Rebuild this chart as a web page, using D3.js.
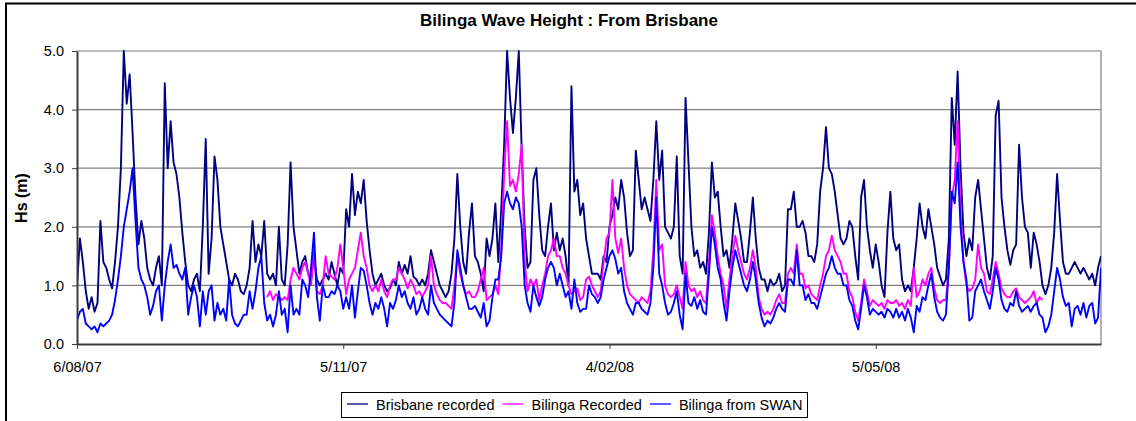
<!DOCTYPE html>
<html>
<head>
<meta charset="utf-8">
<script src="https://cdn.jsdelivr.net/npm/d3@7"></script>
<style>
  body { margin: 0; background: #fff; }
  svg { display: block; font-family: Arial, "Liberation Sans", sans-serif; }
</style>
</head>
<body>
<div id="chart"></div>
<script>
// daily samples, first one on 6/08/07
const startDate = new Date(2007, 7, 6);
const endDate = new Date(2008, 6, 21);
const tickDates = [new Date(2007, 7, 6), new Date(2007, 10, 5), new Date(2008, 1, 4), new Date(2008, 4, 5)];
const tickLabels = ["6/08/07", "5/11/07", "4/02/08", "5/05/08"];
const yTicks = [0, 1, 2, 3, 4, 5];
const seriesNames = ["Brisbane recorded", "Bilinga Recorded", "Bilinga from SWAN"];
const seriesColors = ["#000080", "#ff00ff", "#0000ff"];

const brisbaneRecorded = [
  1.0, 1.8, 1.4, 0.9, 0.6, 0.8, 0.55, 0.7, 2.1, 1.4,
  1.3, 1.1, 0.95, 1.4, 2.0, 3.0, 5.0, 4.1, 4.6, 3.6,
  2.5, 1.7, 2.1, 1.8, 1.3, 1.1, 1.0, 1.3, 1.5, 1.0,
  4.45, 3.0, 3.8, 3.1, 2.9, 2.5, 1.9, 1.4, 1.0, 0.9,
  1.1, 1.2, 0.9, 2.0, 3.5, 1.2, 1.8, 3.2, 2.8, 2.0,
  1.7, 1.4, 1.1, 1.0, 1.2, 1.1, 0.9, 0.85, 1.0, 1.3,
  2.1, 1.4, 1.7, 1.5, 2.1, 1.2, 1.1, 1.2, 1.0, 2.0,
  1.1, 1.0, 1.7, 3.1, 2.0, 1.6, 1.2, 1.4, 1.5, 1.2,
  1.1, 1.5, 1.1, 1.0, 1.1, 1.2, 1.1, 1.4, 1.2, 1.0,
  1.3, 1.2, 2.3, 2.0, 2.9, 2.2, 2.6, 2.4, 2.8, 2.1,
  1.6, 1.2, 1.0, 1.1, 1.2, 1.0, 0.9, 0.95, 1.1, 1.0,
  1.4, 1.2, 1.35, 1.2, 1.5, 1.15, 1.1, 1.0, 1.1, 1.0,
  1.2, 1.6, 1.4, 1.2, 1.0, 0.9, 0.8, 0.9, 1.2, 1.8,
  2.9, 2.0, 1.4, 1.2, 1.9, 2.4, 1.5, 1.4, 1.2, 0.9,
  1.8, 1.5, 1.8, 2.4, 1.4, 2.3, 3.4, 5.0, 4.2, 3.6,
  4.2, 5.0, 3.3, 2.0, 1.3, 1.4, 2.8, 3.0, 2.2, 1.6,
  1.5, 2.0, 2.4, 1.6, 1.9, 1.6, 1.8, 1.5, 1.0, 4.4,
  2.6, 2.8, 2.2, 2.4, 1.8, 1.5, 1.2, 1.2, 1.2, 1.1,
  1.5, 1.4, 2.0, 2.2, 2.5, 2.3, 2.8, 2.5, 1.9, 1.5,
  1.6, 3.3, 2.8, 2.3, 2.5, 2.3, 2.1, 2.8, 3.8, 2.8,
  3.3, 2.0, 1.9, 1.8, 2.0, 3.2, 1.5, 1.2, 4.2, 3.1,
  2.0, 1.5, 1.6, 1.3, 1.4, 1.2, 1.9, 3.1, 2.5, 2.6,
  2.0, 1.5, 1.6, 1.3, 1.8, 2.4, 2.1, 1.8, 1.4, 1.4,
  1.9, 2.5, 1.8, 1.3, 1.1, 1.1, 0.9, 1.1, 1.0, 1.05,
  1.2, 0.9, 1.0, 2.3, 2.3, 2.6, 2.0, 2.0, 2.1, 1.9,
  1.5, 1.5, 1.4, 1.7, 2.6, 3.0, 3.7, 3.0, 2.9, 2.6,
  2.2, 1.8, 1.7, 1.8, 2.1, 2.0, 1.5, 1.1, 2.5, 2.8,
  2.0, 1.6, 1.3, 1.7, 1.4, 1.0, 0.8, 1.9, 2.6, 1.8,
  1.6, 1.7, 1.1, 0.9, 1.0, 0.9, 1.3, 1.8, 2.4, 2.0,
  1.8, 2.3, 2.0, 1.7, 1.3, 1.15, 1.0, 1.1, 1.8, 4.2,
  3.4, 4.65, 3.0, 1.9, 1.5, 1.8, 1.6, 2.5, 2.8, 2.3,
  1.8, 1.3, 1.1, 1.5, 3.9, 4.15, 2.5, 2.0, 1.6, 1.35,
  1.6, 1.7, 3.4, 2.5, 2.0, 1.9, 1.3, 1.9, 1.7, 1.4,
  1.0, 0.85, 1.0, 1.3, 1.9, 2.9, 2.1, 1.4, 1.2, 1.2,
  1.3, 1.4, 1.3, 1.2, 1.3, 1.2, 1.1, 1.2, 1.0, 1.3, 1.5
];

// Bilinga buoy record begins 65 days into the period
const bilingaRecordedStart = 65;
const bilingaRecorded = [
  0.8, 0.9, 0.75, 0.85, 0.8,
  0.75, 0.8, 0.75, 1.1, 1.3, 1.2, 1.1, 1.3, 1.4, 1.2,
  1.0, 1.6, 0.9, 0.85, 1.0, 1.5, 1.2, 1.15, 1.1, 1.3,
  1.7, 1.3, 0.85, 1.1, 1.2, 1.3, 1.6, 1.9, 1.5, 1.3,
  1.0, 0.9, 1.0, 0.9, 1.1, 0.9, 0.8, 1.0, 1.1, 1.1,
  1.3, 1.2, 1.1, 0.95, 1.1, 1.0, 0.85, 0.9, 0.8, 0.9,
  1.0, 1.5, 1.0, 0.85, 0.75, 0.7, 0.7, 0.65, 0.6, 1.0,
  1.5, 1.2, 1.0, 0.85, 0.9, 0.8, 0.8, 0.9, 1.1, 1.3,
  0.75, 0.8, 0.85, 1.0, 0.85, 1.6, 2.9, 3.8, 2.7, 2.8,
  2.6, 2.9, 3.4, 1.4, 0.9, 1.1, 1.0, 1.1, 0.75, 1.0,
  1.2, 1.5, 1.6, 1.8, 1.5, 1.5, 1.3, 1.2, 1.0, 0.85,
  0.9, 0.95, 0.75, 0.8, 1.1, 1.15, 1.0, 0.9, 0.8, 0.9,
  1.4, 1.8, 1.9, 2.8, 1.8, 1.55, 1.8, 1.3, 1.0, 0.85,
  0.8, 0.75, 0.7, 0.8, 0.75, 0.7, 0.9, 1.6, 2.8, 1.6,
  1.7, 1.0, 0.85, 0.8, 0.85, 1.0, 0.8, 0.6, 1.4, 1.0,
  0.9, 0.95, 0.8, 0.9, 0.75, 0.7, 1.4, 2.2, 1.9, 1.5,
  1.2, 1.0, 0.6, 1.1, 1.5, 1.85, 1.6, 1.4, 1.2, 1.1,
  1.3, 1.6, 1.3, 0.8, 0.6, 0.5, 0.55, 0.5, 0.6, 0.75,
  0.85, 0.7, 0.7, 1.2, 1.3, 1.2, 1.7, 1.2, 1.2, 0.95,
  1.0, 0.85, 0.8, 0.75, 1.0, 1.2, 1.5, 1.6, 1.85, 1.6,
  1.5, 1.4, 1.2, 1.2, 0.9, 0.8, 0.55, 0.4, 0.7, 1.1,
  0.9, 0.65, 0.75, 0.7, 0.65, 0.7, 0.6, 0.75, 0.7, 0.7,
  0.75, 0.65, 0.7, 0.6, 0.75, 0.65, 1.3, 0.8, 0.9, 1.1,
  1.0, 1.2, 1.3, 0.95, 0.75, 0.7, 0.75, 0.75, 1.3, 2.5,
  2.8, 3.8, 2.2, 1.4, 1.0, 0.9, 0.95, 1.1, 1.7, 1.3,
  1.2, 0.9, 0.85, 1.1, 1.4, 1.2, 0.95, 0.85, 0.8, 0.8,
  0.9, 0.95, 0.8, 0.75, 0.7, 0.75, 0.8, 0.9, 0.7, 0.8, 0.75
];

const bilingaSwan = [
  0.4, 0.55, 0.6, 0.35, 0.3, 0.25, 0.3, 0.2, 0.35, 0.3,
  0.35, 0.4, 0.5, 0.75, 1.1, 1.5, 2.0, 2.3, 2.6, 3.0,
  2.1, 1.3, 1.1, 1.0, 0.8, 0.5, 0.65, 0.9, 1.0, 0.4,
  1.0, 1.4, 1.7, 1.3, 1.35, 1.2, 1.1, 1.3, 0.5, 0.8,
  1.0, 0.8, 0.3, 0.9, 0.5, 0.9, 1.0, 0.4, 0.7, 0.5,
  0.6, 0.4, 1.1, 0.5, 0.35, 0.3, 0.4, 0.5, 0.5, 0.9,
  0.6, 0.9, 1.3, 1.5, 0.7, 0.4, 0.5, 0.3, 0.5, 0.9,
  0.5, 0.6, 0.2, 1.0, 0.5, 0.6, 0.5, 1.1, 1.0, 0.8,
  1.3, 1.9, 0.8, 0.4, 1.0, 0.8, 0.8, 0.9, 0.85, 1.0,
  0.9, 0.6, 0.8, 0.6, 1.0, 0.45, 0.9, 1.3, 1.25, 1.0,
  0.7, 0.5, 0.7, 0.6, 0.8, 0.6, 0.3, 0.7, 0.6, 0.75,
  1.0, 0.8, 0.9, 0.7, 0.6, 0.8, 0.5, 0.6, 0.8, 0.6,
  0.5, 1.0, 0.7, 0.6, 0.5, 0.45, 0.4, 0.35, 0.3, 0.7,
  1.6, 1.3, 1.0, 0.8, 0.6, 0.6, 0.65, 0.55, 0.45, 0.7,
  0.3, 0.4, 0.8, 1.1, 1.1, 1.5, 2.4, 2.6, 2.4, 2.3,
  2.5, 2.4, 2.0, 1.0, 0.7, 0.55, 1.0, 0.8, 0.65, 0.8,
  1.1, 1.3, 1.4, 1.3, 1.0, 1.2, 1.0, 0.8, 0.9, 0.6,
  1.1, 0.7, 0.55, 0.6, 0.6, 1.0, 0.85, 0.8, 0.7, 0.8,
  1.1, 1.3, 1.5, 1.6, 1.45, 1.2, 1.3, 0.9, 0.7, 0.6,
  0.5, 0.7, 0.7, 0.6, 0.55, 0.5, 0.7, 1.3, 2.5, 1.2,
  1.0, 0.7, 0.5, 0.55, 0.7, 0.9, 0.5, 0.25, 1.2, 0.7,
  0.65, 0.8, 0.6, 0.75, 0.55, 0.5, 1.2, 2.0, 1.7, 1.3,
  1.1, 0.7, 0.4, 0.9, 1.3, 1.6, 1.4, 1.2, 1.0, 0.9,
  1.1, 1.4, 1.1, 0.7, 0.45, 0.3, 0.4, 0.35, 0.45, 0.6,
  0.7, 0.6, 0.55, 1.1, 1.1, 1.0, 1.6, 1.0, 1.0, 0.75,
  0.85, 0.7, 0.7, 0.6, 0.8, 1.0, 1.2, 1.3, 1.5, 1.3,
  1.2, 1.2, 1.0, 1.0, 0.75, 0.65, 0.4, 0.25, 0.6, 1.0,
  0.8, 0.5, 0.6, 0.55, 0.5, 0.55, 0.45, 0.6, 0.55, 0.45,
  0.6, 0.45, 0.55, 0.4, 0.6, 0.45, 0.2, 0.65, 0.55, 0.8,
  0.75, 1.0, 1.2, 0.8, 0.55, 0.45, 0.4, 0.5, 1.3, 2.6,
  2.4, 3.1, 2.0, 1.4, 1.1, 0.4, 0.45, 0.9, 1.0, 1.1,
  0.9, 0.75, 0.6, 0.9, 1.3, 1.1, 0.75, 0.6, 0.55, 0.7,
  0.65, 0.9, 0.65, 0.55, 0.6, 0.65, 0.55, 0.65, 0.7, 0.5,
  0.45, 0.2, 0.3, 0.5, 0.9, 1.3, 1.1, 0.8, 0.65, 0.7,
  0.3, 0.6, 0.65, 0.5, 0.7, 0.45, 0.65, 0.7, 0.35, 0.45, 1.3
];

const W = 1136, H = 421;
const plot = { left: 77, right: 1101, top: 51, bottom: 344 };

const svg = d3.select("#chart").append("svg")
  .attr("width", W)
  .attr("height", H);

svg.append("rect").attr("width", W).attr("height", H).attr("fill", "#fff");

// outer chart frame (runs off the right and bottom of the picture)
svg.append("path")
  .attr("d", `M6,${H} V3.5 H${W}`)
  .attr("fill", "none")
  .attr("stroke", "#000")
  .attr("stroke-width", 2);

const x = d3.scaleTime().domain([startDate, endDate]).range([plot.left, plot.right]);
const y = d3.scaleLinear().domain([0, 5]).range([plot.bottom, plot.top]);

// gridlines
svg.append("g")
  .selectAll("line")
  .data(yTicks.filter(d => d > 0))
  .join("line")
  .attr("x1", plot.left).attr("x2", plot.right)
  .attr("y1", d => y(d)).attr("y2", d => y(d))
  .attr("stroke", "#808080")
  .attr("stroke-width", 1.2);

svg.append("line")
  .attr("x1", plot.right).attr("x2", plot.right)
  .attr("y1", plot.top).attr("y2", plot.bottom)
  .attr("stroke", "#808080")
  .attr("stroke-width", 1.2);

svg.append("clipPath").attr("id", "clip")
  .append("rect")
  .attr("x", plot.left).attr("y", plot.top - 1)
  .attr("width", plot.right - plot.left).attr("height", plot.bottom - plot.top + 1);

const lineGen = offset => d3.line()
  .x((d, i) => x(d3.timeDay.offset(startDate, i + offset)))
  .y(d => y(d));

const series = [
  { values: brisbaneRecorded, offset: 0 },
  { values: bilingaRecorded, offset: bilingaRecordedStart },
  { values: bilingaSwan, offset: 0 }
];

const lines = svg.append("g").attr("clip-path", "url(#clip)");
series.forEach((s, i) => {
  lines.append("path")
    .datum(s.values)
    .attr("d", lineGen(s.offset))
    .attr("fill", "none")
    .attr("stroke", seriesColors[i])
    .attr("stroke-width", 1.9)
    .attr("stroke-linejoin", "round");
});

// axes
const yAxis = svg.append("g")
  .attr("transform", `translate(${plot.left},0)`)
  .call(d3.axisLeft(y).tickValues(yTicks).tickFormat(d3.format(".1f")).tickSize(5).tickSizeOuter(0).tickPadding(8));

const xAxis = svg.append("g")
  .attr("transform", `translate(0,${plot.bottom})`)
  .call(d3.axisBottom(x).tickValues(tickDates).tickFormat((d, i) => tickLabels[i]).tickSize(5).tickSizeOuter(0).tickPadding(12.5));

[yAxis, xAxis].forEach(a => {
  a.select(".domain").attr("stroke", "#3a3a3a").attr("stroke-width", 2);
  a.selectAll(".tick line").attr("stroke", "#3a3a3a");
  a.selectAll("text")
    .attr("fill", "#000")
    .style("font-family", "Arial, 'Liberation Sans', sans-serif")
    .style("font-size", "14.5px");
});

// title and axis title
svg.append("text")
  .attr("x", 569).attr("y", 26)
  .attr("text-anchor", "middle")
  .style("font-size", "17px")
  .style("font-weight", "bold")
  .text("Bilinga Wave Height : From Brisbane");

svg.append("text")
  .attr("transform", "translate(27,198) rotate(-90)")
  .attr("text-anchor", "middle")
  .style("font-size", "16px")
  .style("font-weight", "bold")
  .text("Hs (m)");

// legend
const legend = svg.append("g");
const legendBox = legend.append("rect")
  .attr("y", 392.5).attr("height", 25)
  .attr("fill", "#fff").attr("stroke", "#000").attr("stroke-width", 1);

let lx = 347;
seriesNames.forEach((name, i) => {
  legend.append("line")
    .attr("x1", lx).attr("x2", lx + 21)
    .attr("y1", 404).attr("y2", 404)
    .attr("stroke", seriesColors[i])
    .attr("stroke-width", 1.3);
  const t = legend.append("text")
    .attr("x", lx + 29).attr("y", 409.5)
    .style("font-size", "14.5px")
    .text(name);
  lx += 29 + t.node().getComputedTextLength() + 8;
});
legendBox.attr("x", 341.5).attr("width", lx - 8 + 5 - 341.5);
</script>
</body>
</html>
